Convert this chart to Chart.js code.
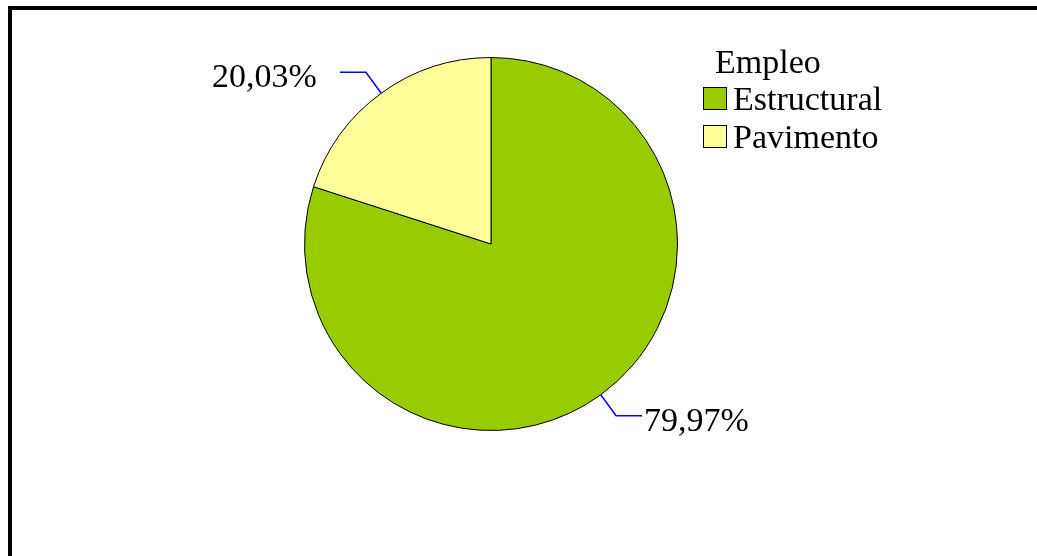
<!DOCTYPE html>
<html>
<head>
<meta charset="utf-8">
<script src="https://cdn.jsdelivr.net/npm/chart.js@4/dist/chart.umd.min.js"></script>
<style>
  html, body { margin: 0; padding: 0; background: #fff; }
  #wrap { width: 1037px; height: 556px; position: relative; }
</style>
</head>
<body>
<div id="wrap"><canvas id="myChart" width="1037" height="556"></canvas></div>
<script>
const legendTitle = 'Empleo';
const categories = ['Estructural', 'Pavimento'];
const shares = [79.97, 20.03];
const colors = ['#99CC00', '#FFFF99'];

const FONT = '34px "Liberation Serif", "Times New Roman", serif';

const fmt = v => v.toFixed(2).replace('.', ',') + '%';

// frame, legend and leader-line labels
const decor = {
    id: 'decor',
    beforeDraw(chart) {
        const c = chart.ctx;
        c.save();
        c.fillStyle = '#000';
        c.fillRect(8, 6, 1029, 4);
        c.fillRect(8, 6, 4, 550);
        c.restore();
    },
    afterDraw(chart) {
        const c = chart.ctx;
        const arcs = chart.getDatasetMeta(0).data;
        c.save();
        c.font = FONT;
        c.fillStyle = '#000';
        c.textBaseline = 'alphabetic';

        // legend
        c.textAlign = 'left';
        c.fillText(legendTitle, 715, 73);
        categories.forEach((name, i) => {
            const y = 87 + i * 38;
            c.fillStyle = colors[i];
            c.fillRect(703, y, 24, 23);
            c.strokeStyle = '#000';
            c.lineWidth = 1;
            c.strokeRect(703.5, y + 0.5, 23, 22);
            c.fillStyle = '#000';
            c.fillText(name, 733, y + 23);
        });

        // labels
        arcs.forEach((arc, i) => {
            const p = arc.getProps(['x', 'y', 'startAngle', 'endAngle', 'outerRadius']);
            const mid = (p.startAngle + p.endAngle) / 2;
            const cos = Math.cos(mid), sin = Math.sin(mid);
            const x0 = p.x + cos * p.outerRadius, y0 = p.y + sin * p.outerRadius;
            const x1 = p.x + cos * (p.outerRadius + 26), y1 = p.y + sin * (p.outerRadius + 26);
            const right = cos >= 0;
            const x2 = x1 + (right ? 26 : -26);
            c.strokeStyle = '#0000FF';
            c.lineWidth = 1.5;
            c.beginPath();
            c.moveTo(x0, y0);
            c.lineTo(x1, y1);
            c.lineTo(x2, y1);
            c.stroke();
            c.fillStyle = '#000';
            if (right) {
                c.textAlign = 'left';
                c.fillText(fmt(shares[i]), x2 + 2, y1 + 15);
            } else {
                c.textAlign = 'right';
                c.fillText(fmt(shares[i]), x2 - 23, y1 + 15);
            }
        });
        c.restore();
    }
};

let ctx = document.getElementById('myChart');

const data = {
    labels: categories,
    datasets: [{
        data: shares,
        backgroundColor: colors,
        borderColor: '#000',
        borderWidth: 1
    }]
};

const config = {
    type: 'pie',
    data: data,
    options: {
        responsive: false,
        animation: false,
        layout: {
            padding: { left: 304, right: 359, top: 57, bottom: 125 }
        },
        plugins: {
            legend: { display: false },
            tooltip: { enabled: false }
        }
    },
    plugins: [decor]
};

let myChart = new Chart(ctx, config);
</script>
</body>
</html>
